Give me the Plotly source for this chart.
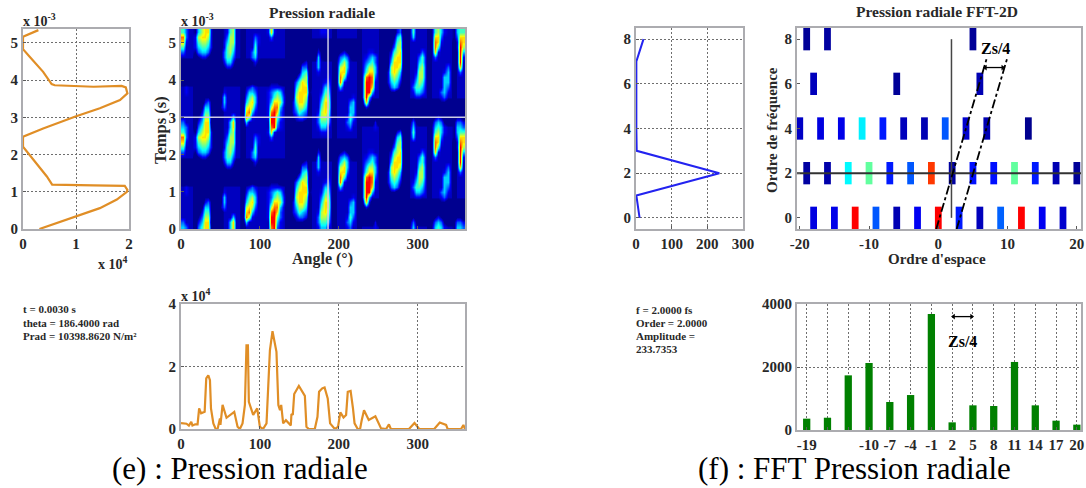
import numpy as np
import plotly.graph_objects as go

W, H = 1086, 488
INK = "rgb(40,40,40)"
FRAME = "rgb(172,172,176)"
GRID = "rgb(110,110,110)"
SERIF = "Liberation Serif"
ORANGE = "rgb(224,142,38)"
BLUE = "rgb(35,35,240)"
GREEN = "rgb(0,128,0)"
JET = [[0, "rgb(0,0,143)"], [0.125, "rgb(0,0,255)"], [0.375, "rgb(0,255,255)"],
       [0.625, "rgb(255,255,0)"], [0.875, "rgb(255,0,0)"], [1, "rgb(128,0,0)"]]

# --- (e) time profile at theta = 186.4 deg (Prad in 1e4, t in 1e-3 s)
profile_p = [0.31, 1.01, 1.45, 1.77, 1.96, 1.97, 1.92, 1.33, 0.60, 0.55, 0.45, 0.20, 0.06, 0, 0, 0.38, 0.99,
             1.45, 1.83, 1.97, 1.94, 1.86, 1.33, 0.60, 0.54, 0.38, 0.13, 0, 0, 0.29]
profile_t = [0, 0.34, 0.56, 0.79, 1.0, 1.05, 1.16, 1.17, 1.18, 1.19, 1.41, 1.86, 2.08, 2.21, 2.48, 2.7, 3.02,
             3.24, 3.46, 3.64, 3.8, 3.84, 3.82, 3.86, 3.89, 4.22, 4.62, 4.83, 5.16, 5.34]

# --- (e) angular profile at t = 0.0030 s (Prad in 1e4)
angle_deg = [0, 7, 10, 13, 14.5, 18, 21, 23, 25.5, 30, 32, 34.6, 36.7, 38, 41, 44, 46.4, 49.4, 50, 52.7, 57.7,
             67.5, 71.7, 74.6, 78, 81, 83, 84.8, 86, 91.5, 96.6, 100, 104, 108.4, 112.7, 116, 121, 123.4, 125.5,
             127, 129.5, 133, 139.2, 140, 141.7, 143.5, 149.4, 157, 159, 162, 169.6, 173, 175, 179, 182, 186,
             189, 195, 199, 202, 206, 209.3, 211.4, 215, 218, 220, 224, 227, 229, 232, 238, 246.4, 253.6, 260,
             263.6, 266, 289, 296, 302, 321, 328, 336, 338, 355, 358, 360]
angle_p = [0.19, 0.17, 0.11, 0.23, 0.11, 0.15, 0.15, 0.66, 0.5, 0.55, 1.62, 1.72, 1.56, 0.66, 0.18, 0, 0, 0.34,
           0.13, 0.77, 0.36, 0.55, 0.07, 0, 0.18, 0.77, 2.68, 2.68, 0.87, 0.45, 0.66, 0.07, 0, 0.18, 2.52, 3.13,
           2.47, 0.77, 0.6, 0.77, 0.18, 0.28, 0.11, 0.48, 0.45, 1.12, 1.38, 1.06, 0.07, 0, 0, 0.39, 1.19, 1.3,
           1.33, 0.98, 0.18, 0, 0.07, 0.53, 0.37, 0.45, 1.19, 1.22, 0.66, 0.18, 0, 0, 0.27, 0.6, 0.29, 0.41,
           0.02, 0, 0.15, 0, 0, 0.19, 0, 0, 0.21, 0.13, 0, 0, 0.13, 0]

# --- (e) pressure map: one temporal period (20 rows), 90 columns of 4 deg.
# Each patch: first column, first row, digit rows going up in time (1 navy ... 9 red); rows wrap round the period.
heat_patches = [
    (0, 14, ["10", "30", "51", "72", "83", "53", "43", "31", "10"]),
    (0, 6, ["010", "020", "020"]),
    (4, 14, ["012210", "134431", "245542", "256652", "267762", "146772", "035771", "024770", "013661", "002551",
             "001441", "000231", "000110"]),
    (12, 12, ["012210", "024420", "035530", "035640", "025650", "024660", "013660", "012560", "001470", "000470",
              "000140"]),
    (12, 4, ["130", "041", "041", "021", "011"]),
    (21, 12, ["0110", "0121", "0341", "0351", "0151", "0042", "0032", "0011"]),
    (19, 1, ["041000", "086200", "078420", "067631", "046741", "035641", "024431", "012321"]),
    (26, 17, ["0110000", "0131000", "0272000", "0189320", "0199420", "0299531", "0289731", "1268841", "1247762",
              "1235652", "1234541", "0122221", "0011100"]),
    (34, 1, ["0011100", "0123320", "0235430", "0246640", "0257750", "0167760", "0157771", "0146770", "0135760",
             "0013560", "0001450", "0000330", "0000120"]),
    (42, 19, ["012210", "024420", "035540", "036650", "026760", "015770", "014770", "013660", "002550", "001440",
              "000230", "000120"]),
    (42, 11, ["120", "140", "041", "041", "021", "010"]),
    (49, 8, ["04100", "08200", "18520", "17731", "16741", "14641", "13431", "01210"]),
    (51, 19, ["01100", "02310", "03420", "02530", "01440", "00441", "00340", "00120"]),
    (57, 4, ["021000", "072000", "094100", "099410", "199720", "199820", "189831", "157741", "146641", "134531",
             "023431", "012210"]),
    (60, 0, ["020", "020"]),
    (64, 7, ["0011000", "0134310", "0245420", "0256530", "0267640", "0167760", "0147770", "0136770", "0125670",
             "0013660", "0002560", "0001450", "0000230"]),
    (72, 6, ["012210", "024430", "035540", "024650", "013660", "012660", "001560", "000450", "000350", "000130"]),
    (72, 17, ["110", "140", "051", "141", "131", "010"]),
    (79, 13, ["01000", "03100", "07200", "08510", "08720", "07731", "05642", "14542", "13431", "01210"]),
    (81, 5, ["01100", "02310", "03420", "01430", "01440", "00441", "00240", "00130"]),
    (86, 11, ["0130", "0170", "0191", "0192", "0194", "0296", "0287", "1377", "1455", "1443", "1332", "0110"]),
]
# faint vertical bands of the map, one digit per column, and the dark gaps in them
heat_bands = "111100000000011111101111111111111000000001111111011111110111111000000000111111011111110111"
band_gaps = [(0, 33, 9, 13), (34, 55, 14, 17), (56, 89, 1, 5)]

# --- (f) amplitude against frequency order
freq_order = [0, 1, 2, 3, 4, 5, 6, 7, 8]
freq_amp = [10, 1, 233.7, 2, 1, 1, 1, 1, 21]

# --- (f) FFT-2D cells
cell_space = [-19, -16, 5, -18, -6, 6,
              -20, -17, -14, -11, -8, -5, -2, 1, 4, 7, 13,
              -19, -16, -13, -10, -7, -4, -1, 2, 5, 8, 11, 14, 17, 20,
              -18, -15, -12, -9, -6, -3, 0, 3, 6, 9, 12, 15, 18]
cell_freq = [8, 8, 8, 6, 6, 6,
             4, 4, 4, 4, 4, 4, 4, 4, 4, 4, 4,
             2, 2, 2, 2, 2, 2, 2, 2, 2, 2, 2, 2, 2, 2,
             0, 0, 0, 0, 0, 0, 0, 0, 0, 0, 0, 0, 0]
cell_level = [0.01, 0.02, 0.01, 0.05, 0.01, 0.04,
              0.06, 0.09, 0.10, 0.36, 0.15, 0.05, 0.04, 0.21, 0.07, 0.04, 0.0,
              0.02, 0.03, 0.37, 0.47, 0.15, 0.21, 0.82, 0.02, 0.14, 0.14, 0.47, 0.15, 0.04, 0.01,
              0.09, 0.10, 0.875, 0.21, 0.04, 0.11, 0.875, 0.15, 0.05, 0.22, 0.875, 0.11, 0.07]
space_ticks = [-20, -10, 0, 10, 20]
space_labels = ["-20", "-10", "0", "10", "20"]

# --- (f) spectrum at f = 2 fs
bar_order = [-19, -16, -13, -10, -7, -4, -1, 2, 5, 8, 11, 14, 17, 20]
bar_amp = [360, 390, 1735, 2127, 890, 1110, 3680, 243, 783, 762, 2160, 783, 296, 170]
bar_labelled = [-19, -10, -7, -4, -1, 2, 5, 8, 11, 14, 17, 20]
bar_labels = ["-19", "-10", "-7", "-4", "-1", "2", "5", "8", "11", "14", "17", "20"]
bar_unlabelled = [-16, -13]

# --- Zs/4 spans
span_2d_x = [6.8, 9.3]
span_2d_y = [6.73, 6.73]
span_bar_x = [2.2, 4.8]
span_bar_y = [3600, 3600]

# --- build the map grid from the patches
period = np.zeros((20, 90))
for col, row0, rows in heat_patches:
    for k, s in enumerate(rows):
        for i, ch in enumerate(s):
            r = (row0 + k) % 20
            period[r, col + i] = max(period[r, col + i], int(ch))
bands = np.tile([int(c) * 1.5 for c in heat_bands.ljust(90, "0")], (20, 1))
for c0, c1, r0, r1 in band_gaps:
    bands[r0:r1 + 1, c0:c1 + 1] = 0
period = np.maximum(period, bands)
heat_z = np.vstack([period, period])
heat_x = (np.arange(90) + 0.5) * 4
heat_y = (np.arange(40) + 0.5) * 5.37 / 40


def dx(a, b):
    return [a / W, b / W]


def dy(top, bottom):
    return [1 - bottom / H, 1 - top / H]


fig = go.Figure()

fig.add_trace(go.Scatter(x=profile_p, y=profile_t, mode="lines", line=dict(color=ORANGE, width=2.2), xaxis="x", yaxis="y"))
fig.add_trace(go.Heatmap(x=heat_x, y=heat_y, z=heat_z, zmin=1, zmax=1 + 8 / 0.875, colorscale=JET, zsmooth="best",
                         showscale=False, xaxis="x2", yaxis="y2"))
fig.add_trace(go.Scatter(x=[186.4, 186.4], y=[0, 5.37], mode="lines", line=dict(color="rgb(205,205,230)", width=1.5),
                         xaxis="x2", yaxis="y2"))
fig.add_trace(go.Scatter(x=[0, 360], y=[3.0, 3.0], mode="lines", line=dict(color="rgb(205,205,230)", width=1.5),
                         xaxis="x2", yaxis="y2"))
fig.add_trace(go.Scatter(x=angle_deg, y=angle_p, mode="lines", line=dict(color=ORANGE, width=2.2), xaxis="x3", yaxis="y3"))
fig.add_trace(go.Scatter(x=freq_amp, y=freq_order, mode="lines", line=dict(color=BLUE, width=2), xaxis="x4", yaxis="y4"))
fig.add_trace(go.Bar(x=cell_space, y=[1] * len(cell_space), base=[f - 0.5 for f in cell_freq], width=0.98,
                     marker=dict(color=cell_level, cmin=0, cmax=1, colorscale=JET, line=dict(width=0)),
                     xaxis="x5", yaxis="y5"))
fig.add_trace(go.Scatter(x=[-20.4, 20.6], y=[2, 2], mode="lines", line=dict(color="rgb(50,50,50)", width=2),
                         xaxis="x5", yaxis="y5"))
fig.add_trace(go.Scatter(x=[1.9, 1.9], y=[0, 8], mode="lines", line=dict(color="rgb(70,70,70)", width=1.5),
                         xaxis="x5", yaxis="y5"))
fig.add_trace(go.Scatter(x=[-0.3, 7.05], y=[-0.5, 7.2], mode="lines", line=dict(color="black", width=1.8, dash="dashdot"),
                         xaxis="x5", yaxis="y5"))
fig.add_trace(go.Scatter(x=[2.65, 10.0], y=[-0.5, 7.2], mode="lines", line=dict(color="black", width=1.8, dash="dashdot"),
                         xaxis="x5", yaxis="y5"))
fig.add_trace(go.Bar(x=bar_order, y=bar_amp, width=1.05, marker=dict(color=GREEN, line=dict(width=0)), xaxis="x6", yaxis="y6"))
for sx, sy, xa, ya in [(span_2d_x, span_2d_y, "x5", "y5"), (span_bar_x, span_bar_y, "x6", "y6")]:
    fig.add_trace(go.Scatter(x=sx, y=sy, mode="lines+markers", line=dict(color="black", width=1.3),
                             marker=dict(symbol=["triangle-left", "triangle-right"], size=5, color="black"),
                             cliponaxis=False, xaxis=xa, yaxis=ya))


def axis(domain, rng, **kw):
    base = dict(domain=domain, range=rng, showline=True, mirror=True, linecolor=FRAME, linewidth=2,
                ticks="inside", ticklen=3, tickcolor="rgb(90,90,90)", tickwidth=1, automargin=False, tickangle=0,
                tickfont=dict(family=SERIF, size=15, color=INK, weight="bold"), zeroline=False,
                showgrid=True, gridcolor=GRID, gridwidth=1, griddash="2px,2px", layer="above traces")
    base.update(kw)
    return base


layout = dict(
    width=W, height=H, margin=dict(l=0, r=0, t=0, b=0, autoexpand=False), paper_bgcolor="white", plot_bgcolor="white",
    showlegend=False, barmode="overlay", hovermode=False,
    xaxis=axis(dx(23, 129), [0, 2], tickvals=[0, 1, 2], anchor="y"),
    yaxis=axis(dy(29, 229), [0, 5.37], tickvals=[0, 1, 2, 3, 4, 5], anchor="x"),
    xaxis2=axis(dx(181, 465), [0, 360], tickvals=[0, 100, 200, 300], anchor="y2", showgrid=False),
    yaxis2=axis(dy(29, 229), [0, 5.37], tickvals=[0, 1, 2, 3, 4, 5], anchor="x2", showgrid=False),
    xaxis3=axis(dx(181, 465), [0, 360], tickvals=[0, 100, 200, 300], anchor="y3"),
    yaxis3=axis(dy(304, 429), [0, 4], tickvals=[0, 2, 4], anchor="x3"),
    xaxis4=axis(dx(636, 743), [0, 300], tickvals=[0, 100, 200, 300], anchor="y4"),
    yaxis4=axis(dy(28, 229), [-0.5, 8.5], tickvals=[0, 2, 4, 6, 8], anchor="x4"),
    xaxis5=axis(dx(797, 1081), [-20.4, 20.6], tickvals=space_ticks, ticktext=space_labels, anchor="y5", showgrid=False),
    yaxis5=axis(dy(28, 229), [-0.5, 8.5], tickvals=[0, 2, 4, 6, 8], anchor="x5", showgrid=False),
    xaxis6=axis(dx(797, 1081), [-20.4, 20.6], tickvals=bar_labelled, ticktext=bar_labels, anchor="y6",
                minor=dict(tickvals=bar_unlabelled, showgrid=True, gridcolor=GRID, gridwidth=1, griddash="2px,2px",
                           ticks="inside", ticklen=3, tickcolor="rgb(90,90,90)")),
    yaxis6=axis(dy(304, 430), [0, 4000], tickvals=[0, 2000, 4000], anchor="x6"),
)
fig.update_layout(**layout)


def note(x, y, text, size=13, angle=0, anchor="center", color=INK, bold=True):
    txt = f"<b>{text}</b>" if bold else text
    fig.add_annotation(xref="paper", yref="paper", x=x / W, y=1 - y / H, text=txt, showarrow=False, textangle=angle,
                       xanchor=anchor, yanchor="middle", align="left",
                       font=dict(family=SERIF, size=size, color=color))


note(322, 12, "Pression radiale", 15.5)
note(937, 11, "Pression radiale FFT-2D", 15.5)
note(21, 20, "x 10<sup>-3</sup>", 14, anchor="left")
note(179, 20, "x 10<sup>-3</sup>", 14, anchor="left")
note(96, 263, "x 10<sup>4</sup>", 14, anchor="left")
note(179, 295, "x 10<sup>4</sup>", 14, anchor="left")
note(160, 130, "Temps (s)", 16.5, angle=-90)
note(322, 259, "Angle (°)", 16)
note(772, 130, "Ordre de fréquence", 15, angle=-90)
note(937, 259, "Ordre d'espace", 15)
for y, s in zip([309, 323, 336], ["t = 0.0030 s", "theta = 186.4000 rad", "Prad = 10398.8620 N/m²"]):
    note(21, y, s, 11, anchor="left")
for y, s in zip([310, 323, 336, 349], ["f = 2.0000 fs", "Order = 2.0000", "Amplitude =", "233.7353"]):
    note(634, y, s, 11, anchor="left")
note(240, 468, "(e) : Pression radiale", 31, bold=False, color="black")
note(854, 468, "(f) : FFT Pression radiale", 31, bold=False, color="black")

fig.add_annotation(xref="x5", yref="y5", x=8.2, y=7.6, text="<b>Zs/4</b>", showarrow=False,
                   font=dict(family=SERIF, size=16, color="black"))
fig.add_annotation(xref="x6", yref="y6", x=3.5, y=2815, text="<b>Zs/4</b>", showarrow=False,
                   font=dict(family=SERIF, size=16, color="black"))

fig.write_html("out.html", config=dict(displayModeBar=False),
               post_script="document.body.style.margin='0';document.body.style.overflow='hidden';")
